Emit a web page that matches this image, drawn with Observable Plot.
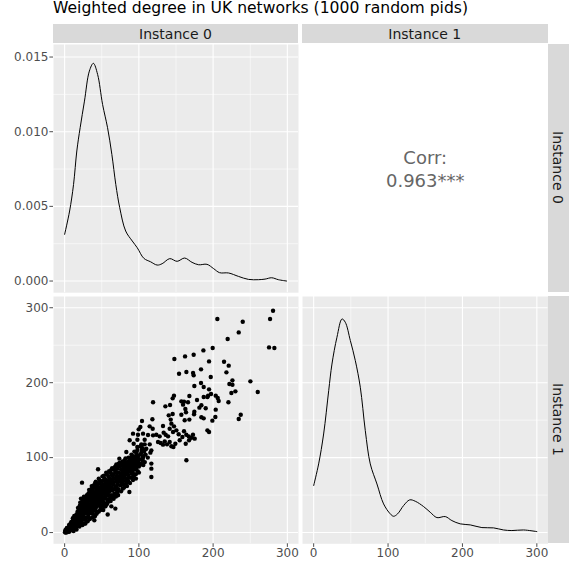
<!DOCTYPE html>
<html>
<head>
<meta charset="utf-8">
<script src="https://cdn.jsdelivr.net/npm/d3@7"></script>
<script src="https://cdn.jsdelivr.net/npm/@observablehq/plot@0.6"></script>
<style>
  body { margin: 0; background: white; }
  #chart { position: relative; width: 569px; height: 562px; background: white; font-family: "DejaVu Sans", sans-serif; overflow: hidden; }
  #chart > * { position: absolute; }
  .strip { background: #d9d9d9; color: #1a1a1a; font-size: 14px; display: flex; align-items: center; justify-content: center; }
  .vstrip { writing-mode: vertical-rl; }
  .title { font-size: 15.6px; color: #000; white-space: nowrap; }
</style>
</head>
<body>
<div id="chart"></div>
<script>
// ---- data ----
const title = "Weighted degree in UK networks (1000 random pids)";
const variables = ["Instance 0", "Instance 1"];
const corrLabel = "Corr:\n0.963***";

const valueTicks = [0, 100, 200, 300];
const valueMinor = [50, 150, 250];
const densTicks = [0, 0.005, 0.010, 0.015];
const densMinor = [0.0025, 0.0075, 0.0125];

const dens0X = [0,6.7,12,16.4,20.9,26.7,33.3,38.7,44.4,51.1,57.8,63.6,68.9,74.2,82.2,91.1,97.8,106.7,115.7,124.6,131.3,141.6,151.5,161.7,171.6,180.5,191.7,200.7,208.7,220.8,234.2,247.6,261,270,278.9,287.9,299];
const dens0Y = [0.00313,0.00469,0.00647,0.00871,0.01027,0.01205,0.01406,0.01458,0.01384,0.01183,0.01027,0.00848,0.00647,0.00491,0.00335,0.00268,0.00223,0.00152,0.00129,0.00107,0.00116,0.0015,0.00132,0.00154,0.00125,0.00109,0.00112,0.00083,0.00056,0.00054,0.00031,0.00011,0.00009,0.00013,0.00022,0.00009,0.0];

const dens1X = [0,6.7,13.4,20.2,24.6,31.3,38.1,42.5,49.3,56,62.7,69.4,76.1,85.1,94,103,107.5,112.8,120.9,129,136.6,147.8,156.7,165.7,176.9,185.8,197,210.5,226.1,241.8,255.2,266.4,282.1,300];
const dens1Y = [0.00313,0.00459,0.0066,0.00951,0.0113,0.0131,0.01433,0.01411,0.01288,0.01153,0.00974,0.00683,0.00459,0.00324,0.0019,0.00123,0.00107,0.00123,0.00179,0.00217,0.00208,0.00172,0.00134,0.00098,0.00105,0.00078,0.00056,0.00049,0.00031,0.00029,0.00015,0.00011,0.00015,0.00004];

// scatter: [Instance 0, Instance 1]
const pairs = [
[280.7,296],[276.7,284.9],[239.9,281.3],[205.7,284.9],[234.5,267.1],[219.6,258.2],[275.3,247.1],[282.5,246.2],[199.4,246.2],[186.9,243.1],
[173.8,237.3],[162.2,235.1],[147.8,231.5],[194.5,228.4],[214.7,228],[221,222.7],[183.7,217.8],[164,214.2],[154.1,212],[173,212.9],
[173.8,209.8],[217.9,213.8],[196.8,207.5],[226,203.1],[250.2,201.8],[221.9,198.2],[226,197.3],[183.7,199.5],[174.7,195.5],[187.3,194.2],
[194.5,191.1],[230,188.4],[224.6,186.2],[260.1,187.5],[197.2,184.9],[193.2,182.7],[192.3,180.9],[203.5,182.7],[206.2,179.5],[207.5,175.6],
[220.6,173.8],[187.3,180.9],[168,182.2],[147.3,182.7],[145.5,179.1],[119.1,173.8],[157.2,175.1],[160.8,174.7],[166.2,173.8],[159.5,170.7],
[178.3,176.9],[142,170.2],[135.7,168.4],[184.2,169.8],[181.5,166.7],[190,165.8],[203.5,164],[162.6,164.9],[174.7,161.3],[163.5,160.4],
[145.5,158.2],[140.2,156.4],[157.2,157.3],[174.3,157.8],[184.2,153.8],[187.3,152.4],[237.2,157.3],[234.5,151.6],[203,154.2],[118.2,151.1],
[104.2,148.9],[168,150.7],[161.7,149.8],[142.9,150.7],[199,149.3],
[102,140.8],[99.7,137.7],[114.5,141.7],[118.6,138.6],[92.1,132],[98.8,130.6],[105.6,132],[112.3,130.2],[119.1,129.7],[123.5,130.6],
[132.5,142.2],[133.4,133.3],[136.1,130.6],[139.3,128.4],[143.8,145.3],[147.3,141.7],[141.5,138.6],[146,134.2],[150.5,136.4],[153.6,131.1],
[160.8,135.1],[163.9,130.6],[167.1,128.4],[172.9,130.6],[158.6,127.5],[155,123.1],[149.1,118.6],[143.8,115.1],[141.5,120.8],[134.8,121.7],
[129.4,119.5],[125.8,120.8],[132.5,117.3],[137.9,117.7],[146.5,114.2],[163.1,118.6],[167.6,123.1],[170.7,126.6],[175.2,125.3],[192.3,136.4],
[194.5,134.2],[164,96.4],[116.8,109.7],[116.8,92],[116.8,85.3],[116.8,74.2],[115.5,106.6],[107.8,117.7],[104.2,113.3],[97.9,114.2],
[93,118.6],[87.6,123.1],[103.3,106.6],[96.6,103.1],[83.1,107.5],[128,128.4],[98,123.9],[107.8,123.9],[103.3,117.7],[114.6,117.7],
[94.4,99.9],[105.6,100.8],[89.9,97.3],[85.4,94.2],[94.4,94.2],[80.9,92],[69.7,91],[101.1,89.7],[45,84.4],[92.1,78.6],
[23.4,66.6],[73.7,98.6],[58,24],[40,16.4],[22,45.3],[19.8,32],[26.5,12],[46.8,36.4],[71.5,49.7],[78.2,58.6],
[87.2,54.2],[105.1,98.6],[108.7,111],[68.3,32],[62.9,35],
[0.5,0.3],[1,1.5],[1.5,0],[2,2],[2.5,1],[3,3.5],[3.5,2],[4,4.5],[4.5,3],[5,1.5],[1,3],[3,0.5],[5,5.5],[2,4],
[5.5,4],[6,7],[6.5,3],[7,6],[7.5,9],[8,5],[8.5,8],[9,11],[9.5,6.5],[10,9],[6,10],[8,12],[7,2.5],[9,4],
[10.5,13],[11,7],[11.5,10],[12,16],[12.5,12],[13,8.5],[13.5,18],[14,14],[14.5,11],[15,20],[11,19],[13,22],[12,5],[15,9],[14.5,16.5],
[15.5,13],[16,24],[16.5,17],[17,11],[17.5,28],[18,20],[18.5,15],[19,25],[19.5,18],[20,30],[16,8],[18,33],[17,22],[19.5,12],[20,22],
[20.5,26],[21,16],[21.5,33],[22,20],[22.5,28],[23,38],[23.5,24],[24,31],[24.5,18],[25,35],[21,40],[23,14],[24,42],[22,30],[25,27],[20.5,36],
[25.5,22],[26,38],[26.5,30],[27,45],[27.5,26],[28,34],[28.5,41],[29,20],[29.5,36],[30,29],[26,48],[28,17],[27,32],[29,44],[30,40],[25.5,42],
[30.5,47],[31,25],[31.5,35],[32,52],[32.5,30],[33,43],[33.5,38],[34,48],[34.5,26],[35,55],[31,41],[32,21],[33,33],[34,45],[35,36],[30.5,33],[33,57],[35,30],
[35.5,42],[36,49],[36.5,28],[37,58],[37.5,38],[38,46],[38.5,33],[39,52],[39.5,41],[40,60],[36,35],[37,44],[38,55],[39,30],[40,47],[36.5,62],[38,25],[39.5,36],[37,51],
[40.5,38],[41,54],[41.5,29],[42,45],[42.5,63],[43,50],[43.5,35],[44,58],[44.5,42],[45,48],[41,66],[42,33],[43,40],[44,53],[45,61],[40.5,45],[42.5,57],[44,27],[45,37],
[45.5,55],[46,44],[46.5,66],[47,39],[47.5,51],[48,59],[48.5,34],[49,47],[49.5,63],[50,42],[46,72],[47,57],[48,30],[49,54],[50,68],[46.5,49],[48,42],[50,36],
[50.5,58],[51,47],[51.5,64],[52,38],[52.5,53],[53,70],[53.5,45],[54,61],[54.5,50],[55,66],[51,75],[52,56],[53,40],[54,35],[55,56],[50.5,44],[52.5,62],[54,72],
[55.5,48],[56,62],[56.5,70],[57,53],[57.5,44],[58,66],[58.5,58],[59,75],[59.5,50],[60,62],[56,80],[57,38],[58,52],[59,68],[60,45],[55.5,57],
[60.5,72],[61,56],[61.5,65],[62,80],[62.5,50],[63,60],[63.5,70],[64,47],[64.5,76],[65,64],[61,43],[62,68],[63,84],[64,56],[65,72],
[65.5,58],[66,78],[66.5,67],[67,52],[67.5,84],[68,62],[68.5,73],[69,57],[69.5,80],[70,68],[66,49],[68,88],[70,61],[67,72],
[70.5,76],[71,85],[71.5,64],[72,71],[72.5,58],[73,80],[73.5,68],[74,88],[74.5,74],[75,63],[71,54],[73,92],[75,79],
[75.5,70],[76,84],[76.5,76],[77,66],[77.5,89],[78,80],[78.5,72],[79,86],[79.5,64],[80,78],[76,92],[78,68],[80,88],
[80.5,82],[81,74],[81.5,90],[82,69],[82.5,85],[83,78],[83.5,93],[84,82],[84.5,72],[85,88],[81,96],[83,66],[85,80],
[85.5,92],[86,76],[86.5,86],[87,96],[87.5,82],[88,73],[88.5,90],[89,84],[89.5,100],[90,79],[86,68],[88,94],
[90.5,88],[91,96],[91.5,82],[92,102],[92.5,86],[93,91],[93.5,76],[94,97],[94.5,88],[95,84],[91,74],
[95.5,93],[96,100],[96.5,86],[97,106],[97.5,91],[98,97],[98.5,82],[99,102],[99.5,94],[100,88],[96,78],
[101,98],[102,104],[103,92],[104,110],[105,96],[106,102],[107,108],[108,94],[109,104],[110,112],
[3,6],[6,1],[9,14],[12,2],[14,22],[16,4],[18,27],[20,8],[22,37],[24,10],[26,44],[28,12],[30,50],[31,15],[33,53],[34,18],[36,58],[37,20],
[39,63],[41,22],[42,68],[43,25],[44,65],[46,28],[47,70],[49,32],[51,69],[52,30],[53,76],[55,35],[57,78],[58,40],[60,82],[62,42],[63,77],
[64,86],[66,45],[68,82],[69,48],[71,90],[72,50],[74,93],[76,55],[78,95],[80,60],[82,99],[84,62],[86,100],[88,66],[90,104],[92,70],[94,108],
[96,72],[98,110],[100,80],[102,115],[106,90],[112,100],
[20,18],[25,30],[30,36],[35,44],[40,40],[45,52],[50,50],[55,60],[60,55],[65,68],[70,72],[75,75],[80,84],[85,85],[90,92],[32,45],[38,40],
[42,50],[48,46],[52,58],[58,62],[62,58],[28,28],[23,20],[18,15],[42,40],[37,36],[47,45],[27,37],[33,27]
];

// ---- layout ----
const col1 = [53, 298], col2 = [302, 547.5];
const row1 = [43.5, 291.7], row2 = [296, 543.3];
const axisW = 53, xAxisH = 20;
const valueDomain = [-15, 315];
const densDomain = [-0.00078, 0.01584];
const gridMajor = 1.1, gridMinor = 0.55;
const axisStyle = {tickSize: 3.6, tickPadding: 1.5, color: "#4d4d4d", fontSize: 12, label: null};
const plotStyle = {fontFamily: "DejaVu Sans", fontSize: "12px", background: "transparent", overflow: "visible"};

const chart = document.getElementById("chart");
function place(el, left, top) { el.style.left = left + "px"; el.style.top = top + "px"; chart.appendChild(el); }
function div(cls, text, left, top, w, h) {
  const d = document.createElement("div");
  d.className = cls; d.textContent = text;
  d.style.width = w + "px"; d.style.height = h + "px";
  place(d, left, top);
}

div("title", title, 53, -1.5, 500, 22);
div("strip", variables[0], col1[0], 24.3, col1[1]-col1[0], row1[0]-24.3);
div("strip", variables[1], col2[0], 24.3, col2[1]-col2[0], row1[0]-24.3);
div("strip vstrip", variables[0], col2[1], row1[0], 569-col2[1], row1[1]-row1[0]);
div("strip vstrip", variables[1], col2[1], row2[0], 569-col2[1], row2[1]-row2[0]);

function grid(xMaj, xMin, yMaj, yMin) {
  return [
    Plot.frame({fill: "#ebebeb", stroke: null}),
    Plot.ruleX(xMin, {stroke: "white", strokeWidth: gridMinor}),
    Plot.ruleY(yMin, {stroke: "white", strokeWidth: gridMinor}),
    Plot.ruleX(xMaj, {stroke: "white", strokeWidth: gridMajor}),
    Plot.ruleY(yMaj, {stroke: "white", strokeWidth: gridMajor})
  ];
}

// Top-left: density of Instance 0
const d0 = dens0X.map((x, i) => ({x, y: dens0Y[i]}));
const p1 = Plot.plot({
  width: col1[1], height: row1[1]-row1[0],
  marginLeft: axisW, marginRight: 0, marginTop: 0, marginBottom: 0,
  style: plotStyle,
  x: {domain: valueDomain, axis: null},
  y: {domain: densDomain, axis: null},
  marks: [
    ...grid(valueTicks, valueMinor, densTicks, densMinor),
    Plot.axisY(densTicks, {...axisStyle, tickFormat: d3.format(".3f")}),
    Plot.line(d0, {x: "x", y: "y", stroke: "black", strokeWidth: 1, curve: "catmull-rom"})
  ]
});
place(p1, 0, row1[0]);

// Top-right: correlation
const p2 = Plot.plot({
  width: col2[1]-col2[0], height: row1[1]-row1[0],
  margin: 0, style: {...plotStyle, background: "white"},
  x: {domain: [0, 1], axis: null}, y: {domain: [0, 1], axis: null},
  marks: [
    Plot.text([corrLabel], {frameAnchor: "middle", text: d => d, fontSize: 18, fill: "#666666", lineHeight: 1.28})
  ]
});
place(p2, col2[0], row1[0]);

// Bottom-left: scatter
const p3 = Plot.plot({
  width: col1[1], height: row2[1]-row2[0]+xAxisH,
  marginLeft: axisW, marginRight: 0, marginTop: 0, marginBottom: xAxisH,
  style: plotStyle,
  x: {domain: valueDomain, axis: null},
  y: {domain: valueDomain, axis: null},
  marks: [
    ...grid(valueTicks, valueMinor, valueTicks, valueMinor),
    Plot.axisY(valueTicks, {...axisStyle}),
    Plot.axisX(valueTicks, {...axisStyle}),
    Plot.dot(pairs, {x: d => d[0], y: d => d[1], r: 2.2, fill: "black", stroke: null})
  ]
});
place(p3, 0, row2[0]);

// Bottom-right: density of Instance 1 (grid from value scale, curve overlaid)
const p4 = Plot.plot({
  width: col2[1]-col2[0], height: row2[1]-row2[0]+xAxisH,
  marginLeft: 0, marginRight: 0, marginTop: 0, marginBottom: xAxisH,
  style: plotStyle,
  x: {domain: valueDomain, axis: null},
  y: {domain: valueDomain, axis: null},
  marks: [
    ...grid(valueTicks, valueMinor, valueTicks, valueMinor),
    Plot.axisX(valueTicks, {...axisStyle})
  ]
});
place(p4, col2[0], row2[0]);

const d1 = dens1X.map((x, i) => ({x, y: dens1Y[i]}));
const p5 = Plot.plot({
  width: col2[1]-col2[0], height: row2[1]-row2[0]+xAxisH,
  marginLeft: 0, marginRight: 0, marginTop: 0, marginBottom: xAxisH,
  style: plotStyle,
  x: {domain: valueDomain, axis: null},
  y: {domain: densDomain, axis: null},
  marks: [
    Plot.line(d1, {x: "x", y: "y", stroke: "black", strokeWidth: 1, curve: "catmull-rom"})
  ]
});
place(p5, col2[0], row2[0]);
</script>
</body>
</html>
